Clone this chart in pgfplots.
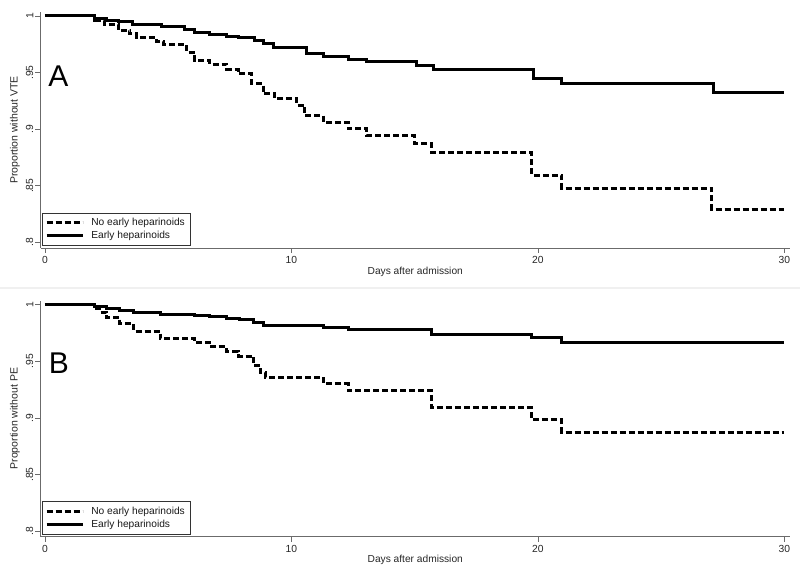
\documentclass[border=0pt]{standalone}
\usepackage{fontspec}
\setmainfont{Liberation Sans}
\usepackage{pgfplots}
\pgfplotsset{compat=1.18}
\definecolor{axgray}{gray}{0.42}
\pgfplotsset{
  kmstyle/.style={
    scale only axis, width=749.5pt, height=236pt,
    xmin=-0.18, xmax=30.23, ymin=0.795, ymax=1.0035,
    axis x line*=bottom, axis y line*=left,
    axis line style={axgray, line width=0.8pt},
    xtick={0,10,20,30}, xticklabels={0,10,20,30},
    ytick={0.8,0.85,0.9,0.95,1}, yticklabels={.8,.85,.9,.95,1},
    tick align=outside, major tick length=5pt,
    tick style={axgray, line width=0.6pt},
    every tick label/.append style={font=\fontsize{10.3}{12}\selectfont, text=black!85},
    yticklabel style={rotate=90, anchor=south, inner sep=2pt},
    xticklabel style={anchor=north, inner sep=3.5pt},
    xlabel={Days after admission},
    xlabel style={at={(axis description cs:0.5,-0.1)}, anchor=center, font=\fontsize{10.2}{12}\selectfont, text=black!85},
    ylabel style={at={(axis description cs:-0.034,0.5)}, anchor=center, font=\fontsize{10.5}{12}\selectfont, text=black!85},
    legend cell align=left,
    legend style={at={(axis description cs:0.0016,0.0097)}, anchor=south west,
      draw=black!80, line width=0.6pt, fill=white,
      font=\fontsize{10.2}{12}\selectfont, text=black!90, inner xsep=3pt, inner ysep=2.7pt,
      nodes={inner sep=2.3pt}, row sep=0pt},
    legend image code/.code={\draw[##1, line width=3pt] (0pt,0pt) -- (36pt,0pt); \path (41pt,0pt);},
    nohep/.style={black, line width=3pt, dash pattern=on 6pt off 3pt, const plot},
    hep/.style={black, line width=3pt, const plot},
  }
}
\begin{document}
\begin{tikzpicture}[x=1pt,y=1pt]
\useasboundingbox (0,0) rectangle (800,576);
\fill[black!6] (0,287) rectangle (800,289);

\begin{axis}[kmstyle, at={(40.5pt,328pt)}, anchor=south west, ylabel={Proportion without VTE}]
\addplot[nohep] coordinates {
(0,1) (2.03,.9962) (2.43,.9927) (2.97,.9874) (3.45,.9845) (3.72,.9806) (4.53,.977) (4.8,.9747)
(5.75,.968) (6.08,.9603) (6.69,.9574) (7.37,.953) (7.84,.9492) (8.38,.9403) (8.86,.9315)
(9.33,.9267) (10.21,.9212) (10.55,.9121) (11.29,.9062) (12.3,.9006) (13.05,.8941)
(15.01,.8874) (15.69,.8794) (19.74,.8594) (20.96,.8477) (27.05,.8291) (30,.8291)};
\addlegendentry{No early heparinoids}
\addplot[hep] coordinates {
(0,1) (2.03,.998) (2.5,.996) (3.0,.9947) (3.57,.9927) (4.73,.9903) (5.68,.988) (6.08,.9853)
(6.69,.9838) (7.37,.982) (7.84,.9806) (8.52,.9783) (8.86,.9754) (9.26,.972) (10.6,.9668)
(11.29,.9644) (12.3,.9618) (13.05,.9594) (15.08,.9565) (15.75,.953) (19.81,.9447)
(20.96,.9406) (27.11,.9324) (30,.9324)};
\addlegendentry{Early heparinoids}
\node[font=\fontsize{30}{30}\selectfont, text=black] at (rel axis cs:0.0237,0.729) {A};
\end{axis}

\begin{axis}[kmstyle, at={(40.5pt,39.3pt)}, anchor=south west, ylabel={Proportion without PE}]
\addplot[nohep] coordinates {
(0,1) (2.03,.9965) (2.2,.9935) (2.5,.989) (3.04,.9832) (3.58,.9767) (4.67,.9702) (6.08,.9664)
(6.76,.9626) (7.37,.9587) (7.84,.9546) (8.45,.9464) (8.75,.94) (8.93,.936) (11.29,.9302)
(12.3,.9243) (15.69,.909) (19.74,.8984) (20.96,.8875) (30,.8875)};
\addlegendentry{No early heparinoids}
\addplot[hep] coordinates {
(0,1) (2.03,.998) (2.5,.9965) (3.04,.995) (3.58,.9932) (4.67,.9917) (6.08,.9905) (6.69,.9894)
(7.37,.9882) (7.91,.9867) (8.45,.9844) (8.86,.982) (11.29,.9802) (12.3,.9782) (15.69,.9738)
(19.74,.9708) (20.96,.967) (30,.967)};
\addlegendentry{Early heparinoids}
\node[font=\fontsize{30}{30}\selectfont, text=black] at (rel axis cs:0.0244,0.736) {B};
\end{axis}
\end{tikzpicture}
\end{document}
